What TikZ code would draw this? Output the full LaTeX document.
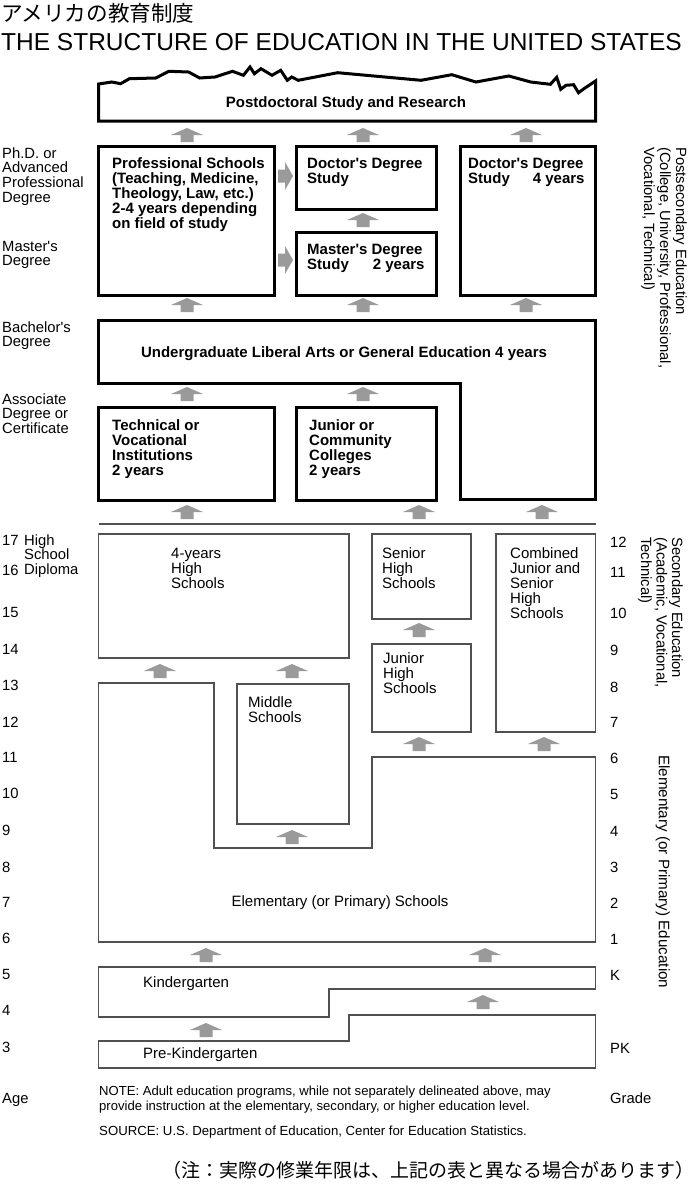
\documentclass[tikz,border=0pt]{standalone}
\usepackage{fontspec}
\setmainfont{Liberation Sans}[Ligatures=TeXOff]
\newfontfamily\jpfont{Noto Sans CJK JP}
\definecolor{agray}{HTML}{9A9A9A}
\definecolor{lgray}{HTML}{505050}
\tikzset{
  uparr/.pic={\fill[agray] (-16,0) -- (0,-7) -- (16,0) -- (6.5,0) -- (6.5,7) -- (-6.5,7) -- (-6.5,0) -- cycle;},
  rtarr/.pic={\fill[agray] (0,-14) -- (8,0) -- (0,14) -- (0,6.5) -- (-7,6.5) -- (-7,-6.5) -- (0,-6.5) -- cycle;}
}
\begin{document}
\begin{tikzpicture}[x=1pt,y=-1pt,
  heavy/.style={line width=3pt, line join=miter},
  lite/.style={line width=1.3pt, draw=lgray, line join=miter},
  lab/.style={inner sep=0pt, anchor=base west, align=left, font=\fontsize{14.8}{14.7}\selectfont},
  btxt/.style={inner sep=0pt, anchor=base west, align=left, font=\fontsize{15}{15}\selectfont\bfseries},
  rtxt/.style={inner sep=0pt, anchor=base west, align=left, font=\fontsize{15}{15}\selectfont},
  side/.style={inner sep=0pt, rotate=-90, anchor=north west, align=left, font=\fontsize{14.8}{16}\selectfont}
]
\useasboundingbox (0,0) rectangle (688,1186);
\fill[white] (0,0) rectangle (688,1186);

% titles (base anchor of a multi-line node = its last line)
\node[inner sep=0pt, anchor=base west, font=\jpfont\fontsize{21.6}{21.6}\selectfont] (jtitle) at (1,21) {アメリカの教育制度};
\node[inner sep=0pt, anchor=base west, font=\fontsize{24.5}{24.5}\selectfont] (etitle) at (1,50) {THE STRUCTURE OF EDUCATION IN THE UNITED STATES};

% postdoctoral
\draw[heavy] (98.5,84) -- (111.8,82) -- (120.6,83.7) -- (129.4,78.7) -- (155.7,78) -- (168.9,71.3) -- (188.6,72) -- (199.6,78) -- (215,77) -- (232.5,71.3) -- (243.4,75.3) -- (250,67) -- (254.4,73.7) -- (261,68.7) -- (272,75.3) -- (280.7,70.3) -- (287.3,80.3) -- (291.7,77) -- (298.2,80.3) -- (337.7,72.7) -- (421,80.3) -- (451.8,74.7) -- (475.9,82) -- (508.8,76) -- (530.7,82) -- (550.4,84.3) -- (556.7,77.3) -- (560.7,89.3) -- (566,85.3) -- (573.6,84.7) -- (578.5,92.7) -- (584.5,88.3) -- (595.5,81) -- (595.5,121) -- (98.5,121) -- cycle;
\node[btxt, anchor=base] (postdoc) at (346,107) {Postdoctoral Study and Research};

% graduate row
\draw[heavy] (98.5,146) rectangle (274,295);
\draw[heavy] (296,146) rectangle (436.5,209);
\draw[heavy] (296,232) rectangle (436.5,295);
\draw[heavy] (460,146) rectangle (595.5,295);
\node[btxt] (prof) at (112,228) {Professional Schools\\(Teaching, Medicine,\\Theology, Law, etc.)\\2-4 years depending\\on field of study};
\node[btxt] (doct) at (307,183) {Doctor's Degree\\Study};
\node[btxt] (doct4) at (468,183) {Doctor's Degree\\Study\hspace*{23pt}4 years};
\node[btxt] (mast) at (307,269) {Master's Degree\\Study\hspace*{24pt}2 years};

% undergraduate
\draw[heavy] (98.5,320) -- (595.5,320) -- (595.5,499) -- (460,499) -- (460,383) -- (98.5,383) -- cycle;
\node[btxt, anchor=base] (ugrad) at (344,357) {Undergraduate Liberal Arts or General Education 4 years};

\draw[heavy] (98.5,407) rectangle (274,500);
\draw[heavy] (296,407) rectangle (436.5,500);
\node[btxt] (tech) at (112,475) {Technical or\\Vocational\\Institutions\\2 years};
\node[btxt] (junc) at (309,475) {Junior or\\Community\\Colleges\\2 years};

% secondary
\draw[lite] (98.5,524) -- (595.5,524);
\draw[lite] (98.5,534) rectangle (349,658);
\draw[lite] (372,534) rectangle (471,619);
\draw[lite] (372,644) rectangle (471,732);
\draw[lite] (496,534) rectangle (595.5,732);
\node[rtxt] (hs4) at (171,588) {4-years\\High\\Schools};
\node[rtxt] (shs) at (382,588) {Senior\\High\\Schools};
\node[rtxt] (comb) at (510,618) {Combined\\Junior and\\Senior\\High\\Schools};
\node[rtxt] (jhs) at (383,693) {Junior\\High\\Schools};

% elementary
\draw[lite] (98.5,683) -- (214,683) -- (214,848) -- (372,848) -- (372,757) -- (595.5,757) -- (595.5,942) -- (98.5,942) -- cycle;
\draw[lite] (237,684) rectangle (349,824);
\node[rtxt] (mid) at (248,722) {Middle\\Schools};
\node[rtxt, anchor=base] (elem) at (340,906) {Elementary (or Primary) Schools};

% kindergarten
\draw[lite] (98.5,967) -- (595.5,967) -- (595.5,989) -- (329,989) -- (329,1017) -- (98.5,1017) -- cycle;
\node[rtxt] (kg) at (143,987) {Kindergarten};
\draw[lite] (98.5,1041) -- (349,1041) -- (349,1015) -- (595.5,1015) -- (595.5,1068) -- (98.5,1068) -- cycle;
\node[rtxt] (pk) at (143,1058) {Pre-Kindergarten};

% arrows
\foreach \ax/\ay in {187/135, 363/135, 526/135, 187/305, 363/305, 526/305, 363/220,
  187/394, 363/394, 187/512, 419/512, 542/512, 419/630, 160/671, 292/671, 292/837,
  419/744, 544/744, 206/955, 485/955, 483/1002, 206/1030}
  \pic at (\ax,\ay) {uparr};
\pic at (285,176) {rtarr};
\pic at (285,260) {rtarr};

% left labels
\node[lab] (phd) at (2,202.1) {Ph.D. or\\Advanced\\Professional\\Degree};
\node[lab] (mastl) at (2,265.7) {Master's\\Degree};
\node[lab] (bach) at (2,346.7) {Bachelor's\\Degree};
\node[lab] (assoc) at (2,433.4) {Associate\\Degree or\\Certificate};
\node[lab] (hsd) at (24,574.4) {High\\School\\Diploma};
\foreach \a/\yy in {17/545, 16/575, 15/617, 14/654, 13/690, 12/727, 11/762, 10/798, 9/835, 8/872, 7/907, 6/943, 5/979, 4/1015, 3/1052}
  \node[lab] (age\a) at (2,\yy) {\a};
\node[lab] (agelab) at (2,1103) {Age};
\foreach \g/\yy in {12/547, 11/577, 10/618, 9/655, 8/692, 7/727, 6/763, 5/799, 4/836, 3/872, 2/908, 1/944, K/980, PK/1053}
  \node[lab] (gr\g) at (610,\yy) {\g};
\node[lab] (gradelab) at (610,1103) {Grade};

% side labels
\node[side] (postsec) at (687,147) {Postsecondary Education\\(College, University, Professional,\\Vocational, Technical)};
\node[side, font=\fontsize{14.8}{15.5}\selectfont] (secon) at (683,537) {Secondary Education\\(Academic, Vocational,\\Technical)};
\node[side, font=\fontsize{15.2}{15.2}\selectfont] (elemed) at (670,755) {Elementary (or Primary) Education};

% notes
\node[inner sep=0pt, anchor=base west, align=left, font=\fontsize{13.1}{15}\selectfont] (note) at (99,1110) {NOTE: Adult education programs, while not separately delineated above, may\\provide instruction at the elementary, secondary, or higher education level.};
\node[inner sep=0pt, anchor=base west, font=\fontsize{13.2}{15}\selectfont] (src) at (99,1135) {SOURCE: U.S. Department of Education, Center for Education Statistics.};
\node[inner sep=0pt, anchor=base west, font=\jpfont\fontsize{19}{19}\selectfont] (jnote) at (162,1177) {（注：実際の修業年限は、上記の表と異なる場合があります）\hspace*{-10pt}};
\end{tikzpicture}
\end{document}
